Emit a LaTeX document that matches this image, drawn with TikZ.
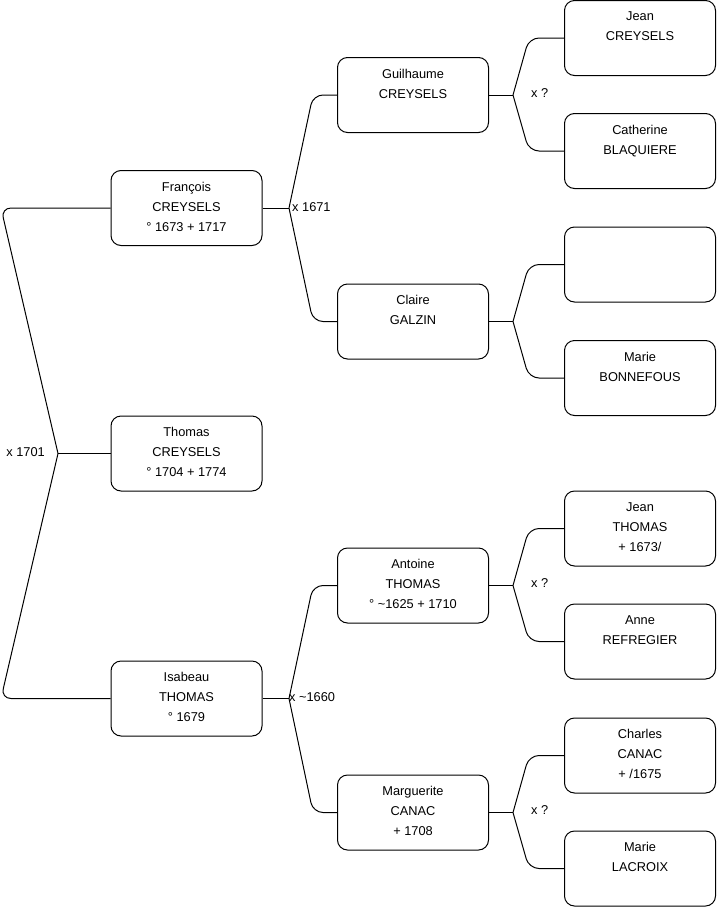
\documentclass[tikz,border=0pt]{standalone}
\usepackage{fontspec}
\setmainfont{Liberation Sans}

\begin{document}
\begin{tikzpicture}[x=1pt,y=-1pt,
    person/.style={draw, line width=1pt, rounded corners=10pt,
      minimum width=151pt, minimum height=75pt, align=center,
      font=\fontsize{12.8}{20}\selectfont,
      execute at begin node=\rule{0pt}{17pt},
      execute at end node=\rule[-3pt]{0pt}{3pt}},
    link/.style={line width=1pt, rounded corners=10pt},
    union/.style={inner sep=1pt, font=\fontsize{12.8}{14}\selectfont}]
    \useasboundingbox (0,0) rectangle (716,908);

    % generation 1
    \node[person] (francois) at (186.5,208) {François\\CREYSELS\\° 1673 + 1717};
    \node[person] (thomas) at (186.5,453.5) {Thomas\\CREYSELS\\° 1704 + 1774};
    \node[person] (isabeau) at (186.5,698.5) {Isabeau\\THOMAS\\° 1679};

    % generation 2
    \node[person] (guilhaume) at (413,95) {Guilhaume\\CREYSELS\\};
    \node[person] (claire) at (413,321.5) {Claire\\GALZIN\\};
    \node[person] (antoine) at (413,585.5) {Antoine\\THOMAS\\° \textasciitilde1625 + 1710};
    \node[person] (marguerite) at (413,812.5) {Marguerite\\CANAC\\+ 1708};

    % generation 3
    \node[person] (jeanc) at (640,38) {Jean\\CREYSELS\\};
    \node[person] (catherine) at (640,151) {Catherine\\BLAQUIERE\\};
    \node[person] (inconnu) at (640,264.5) {};
    \node[person] (marieb) at (640,378) {Marie\\BONNEFOUS\\};
    \node[person] (jeant) at (640,528.5) {Jean\\THOMAS\\+ 1673/};
    \node[person] (anne) at (640,641.5) {Anne\\REFREGIER\\};
    \node[person] (charles) at (640,755.5) {Charles\\CANAC\\+ /1675};
    \node[person] (mariel) at (640,868.5) {Marie\\LACROIX\\};

    % unions
    \coordinate (v1) at (58,453.5);
    \coordinate (k1) at (1,453.5);
    \coordinate (v2) at (289,208);
    \coordinate (k2) at (313,208);
    \coordinate (v3) at (513,95);
    \coordinate (k3) at (529,95);
    \coordinate (v4) at (513,321.5);
    \coordinate (k4) at (529,321.5);
    \coordinate (v5) at (513,585.5);
    \coordinate (k5) at (529,585.5);
    \coordinate (v6) at (513,812.5);
    \coordinate (k6) at (529,812.5);
    \coordinate (v7) at (289,698.5);
    \coordinate (k7) at (313,698.5);

    \draw[link] (thomas.west) -- (v1);
    \draw[link] (v1) -- (k1 |- francois.west) -- (francois.west);
    \draw[link] (v1) -- (k1 |- isabeau.west) -- (isabeau.west);

    \draw[link] (francois.east) -- (v2);
    \draw[link] (v2) -- (k2 |- guilhaume.west) -- (guilhaume.west);
    \draw[link] (v2) -- (k2 |- claire.west) -- (claire.west);

    \draw[link] (guilhaume.east) -- (v3);
    \draw[link] (v3) -- (k3 |- jeanc.west) -- (jeanc.west);
    \draw[link] (v3) -- (k3 |- catherine.west) -- (catherine.west);

    \draw[link] (claire.east) -- (v4);
    \draw[link] (v4) -- (k4 |- inconnu.west) -- (inconnu.west);
    \draw[link] (v4) -- (k4 |- marieb.west) -- (marieb.west);

    \draw[link] (antoine.east) -- (v5);
    \draw[link] (v5) -- (k5 |- jeant.west) -- (jeant.west);
    \draw[link] (v5) -- (k5 |- anne.west) -- (anne.west);

    \draw[link] (marguerite.east) -- (v6);
    \draw[link] (v6) -- (k6 |- charles.west) -- (charles.west);
    \draw[link] (v6) -- (k6 |- mariel.west) -- (mariel.west);

    \draw[link] (isabeau.east) -- (v7);
    \draw[link] (v7) -- (k7 |- antoine.west) -- (antoine.west);
    \draw[link] (v7) -- (k7 |- marguerite.west) -- (marguerite.west);

    \node[union, anchor=east] (u1) at (46,452.5) {x 1701};
    \node[union, anchor=west] (u2) at (291,207) {x 1671};
    \node[union, anchor=west] (u3) at (530,93) {x ?};
    \node[union, anchor=west] (u5) at (530,583) {x ?};
    \node[union, anchor=west] (u6) at (530,810) {x ?};
    \node[union, anchor=west] (u7) at (288,697.5) {x \textasciitilde1660};
\end{tikzpicture}
\end{document}
